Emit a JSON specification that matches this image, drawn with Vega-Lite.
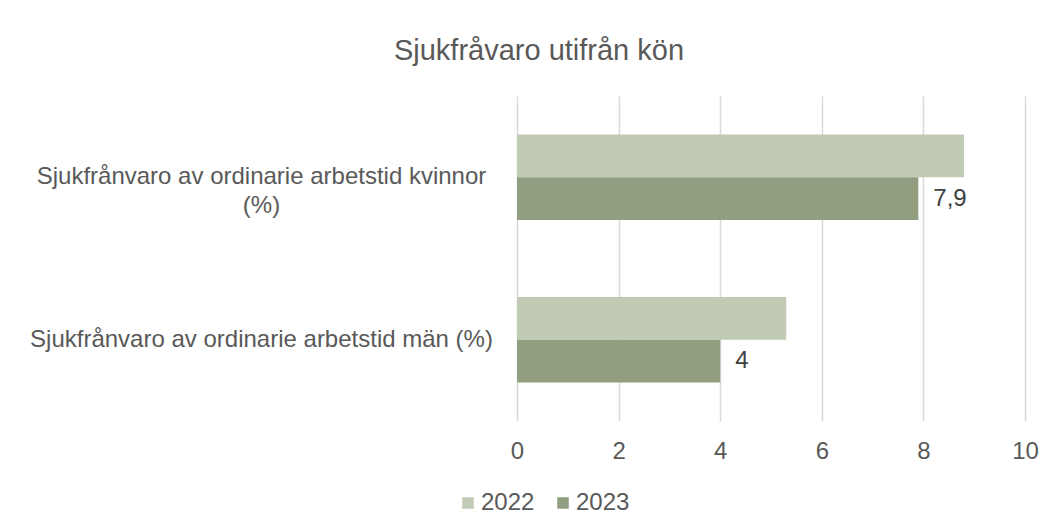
{
  "$schema": "https://vega.github.io/schema/vega-lite/v6.json",
  "width": 508,
  "height": 325,
  "autosize": "none",
  "padding": {"left": 517, "top": 96, "right": 30, "bottom": 111},
  "background": "white",
  "title": {
    "text": "Sjukfråvaro utifrån kön",
    "anchor": "middle",
    "dx": -232,
    "offset": 30,
    "fontSize": 29,
    "fontWeight": "normal",
    "font": "Liberation Sans",
    "color": "#595959"
  },
  "data": {
    "values": [
      {"kategori": "Sjukfrånvaro av ordinarie arbetstid kvinnor (%)", "år": "2022", "värde": 8.8},
      {"kategori": "Sjukfrånvaro av ordinarie arbetstid kvinnor (%)", "år": "2023", "värde": 7.9},
      {"kategori": "Sjukfrånvaro av ordinarie arbetstid män (%)", "år": "2022", "värde": 5.3},
      {"kategori": "Sjukfrånvaro av ordinarie arbetstid män (%)", "år": "2023", "värde": 4}
    ]
  },
  "encoding": {
    "y": {
      "field": "kategori",
      "type": "nominal",
      "sort": null,
      "title": null,
      "scale": {"paddingInner": 0.475, "paddingOuter": 0.2375},
      "axis": {
        "domain": false,
        "ticks": false,
        "grid": false,
        "labelPadding": 256,
        "labelFontSize": 24,
        "labelFont": "Liberation Sans",
        "labelColor": "#595959",
        "labelLimit": 600,
        "labelLineHeight": 29,
        "labelBaseline": "middle",
        "labelAlign": "center",
        "labelExpr": "indexof(datum.value, 'kvinnor') >= 0 ? ['Sjukfrånvaro av ordinarie arbetstid kvinnor', '(%)'] : datum.value"
      }
    },
    "yOffset": {"field": "år", "type": "nominal"},
    "x": {
      "field": "värde",
      "type": "quantitative",
      "title": null,
      "scale": {"domain": [0, 10], "nice": false},
      "axis": {
        "values": [0, 2, 4, 6, 8, 10],
        "domain": false,
        "ticks": false,
        "gridColor": "#D9D9D9",
        "gridWidth": 1.5,
        "labelFlush": false,
        "labelOverlap": false,
        "labelPadding": 18,
        "labelFontSize": 24,
        "labelFont": "Liberation Sans",
        "labelColor": "#595959",
        "format": "d"
      }
    }
  },
  "layer": [
    {
      "mark": {"type": "bar"},
      "encoding": {
        "color": {
          "field": "år",
          "type": "nominal",
          "scale": {"domain": ["2022", "2023"], "range": ["#C1CAB4", "#919E7F"]},
          "legend": {
            "title": null,
            "orient": "none",
            "direction": "horizontal",
            "legendX": -61,
            "legendY": 395,
            "symbolType": "square",
            "symbolSize": 132,
            "symbolStrokeWidth": 0,
            "labelFontSize": 24,
            "labelFont": "Liberation Sans",
            "labelColor": "#595959",
            "labelOffset": 1,
            "columnPadding": 16
          }
        }
      }
    },
    {
      "transform": [{"filter": "datum['år'] == '2023'"}],
      "mark": {"type": "text", "align": "left", "baseline": "middle", "dx": 15, "fontSize": 24, "font": "Liberation Sans", "color": "#404040"},
      "encoding": {
        "text": {"field": "värde", "type": "quantitative", "format": "~g"}
      }
    }
  ],
  "config": {
    "view": {"stroke": null},
    "locale": {"number": {"decimal": ",", "thousands": " ", "grouping": [3], "currency": ["", " kr"]}}
  }
}
